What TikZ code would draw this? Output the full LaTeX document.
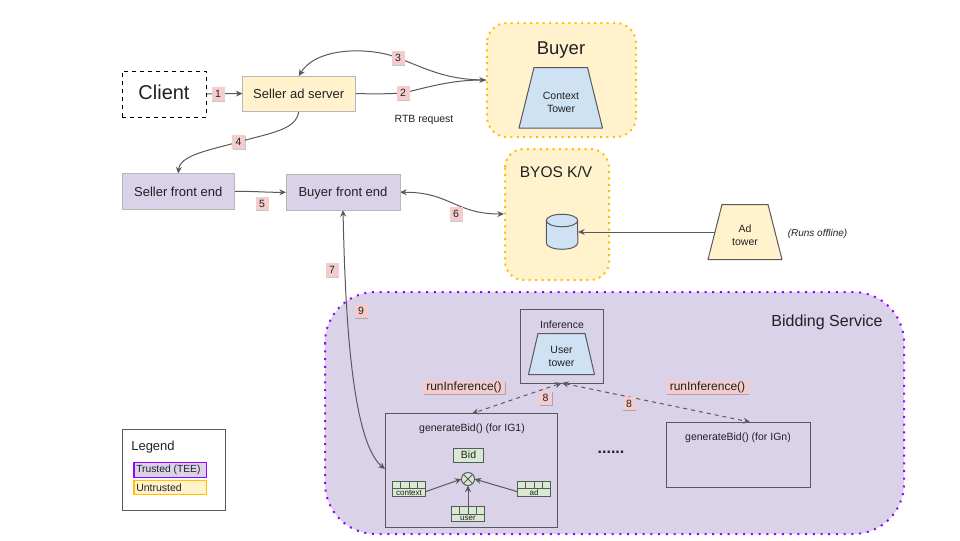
\documentclass[tikz,border=0pt]{standalone}
\usepackage{fontspec}
\setmainfont{Liberation Sans}
\usetikzlibrary{shapes.geometric,arrows.meta,shadows,calc}
\pgfdeclarelayer{back}\pgfdeclarelayer{conn}
\pgfsetlayers{back,conn,main}
\newcommand{\fsz}[1]{\fontsize{\fpeval{#1*0.75}pt}{\fpeval{#1*0.93}pt}\selectfont}
\definecolor{lav}{HTML}{D9D2E9}
\definecolor{cream}{HTML}{FFF2CC}
\definecolor{sky}{HTML}{CFE2F3}
\definecolor{pinkl}{HTML}{F4CCCC}
\definecolor{mint}{HTML}{D9EAD3}
\definecolor{vio}{HTML}{9900FF}
\definecolor{amber}{HTML}{FFC000}
\definecolor{dgrey}{HTML}{595959}
\definecolor{lgrey}{HTML}{B7B7B7}
\definecolor{ink}{HTML}{202124}
\tikzset{
 wh/.style 2 args={minimum width=#1*0.75pt,minimum height=#2*0.75pt,inner sep=0pt,outer sep=0pt},
 every node/.style={text=ink,align=center},
 lightbox/.style={draw=lgrey,line width=0.75pt},
 darkbox/.style={draw=dgrey,line width=0.75pt},
 dotamber/.style={draw=amber,line width=1.5pt,dash pattern=on 1.5pt off 3.3pt},
 dotvio/.style={draw=vio,line width=1.5pt,dash pattern=on 1.5pt off 4.3pt},
 conn/.style={draw=dgrey,line width=0.75pt,>={Stealth[length=5pt,width=4.5pt]}},
 tag/.style={fill=pinkl,inner sep=0pt,minimum height=10pt,minimum width=9.75pt,font=\fsz{10.5},
   drop shadow={shadow xshift=0.6pt,shadow yshift=-0.7pt,opacity=.22,fill=black}},
 towerline/.style={fill=sky,draw=dgrey,line width=0.75pt,line join=round},
 tbl/.style={wh={33}{15.5},fill=mint,darkbox,font=\fsz{8}},
}
\newcommand{\cells}[1]{%
 \draw[darkbox] ($(#1.north west)!0.5!(#1.south west)$) -- ($(#1.north east)!0.5!(#1.south east)$);
 \foreach \f in {0.25,0.5,0.75}{\draw[darkbox] ($(#1.north west)!\f!(#1.north east)$) -- ($($(#1.north west)!\f!(#1.north east)$)!0.5!($(#1.south west)!\f!(#1.south east)$)$);}%
}
\begin{document}
\begin{tikzpicture}[x=0.75pt,y=-0.75pt]
\useasboundingbox (0,0) rectangle (960,540);
% panels
\begin{pgfonlayer}{back}
\node[wh={149}{114},fill=cream,rounded corners=15pt] (buyerbg) at (561.5,80) {};
\draw[dotamber,rounded corners=15pt] (487,23) rectangle (636,137);
\node[wh={104}{131},fill=cream,rounded corners=14pt] (byosbg) at (557,214.5) {};
\draw[dotamber,rounded corners=14pt] (505,149) rectangle (609,280);
\node[wh={579}{242},fill=lav,rounded corners=38pt] (bidbg) at (614.5,413) {};
\draw[dotvio,rounded corners=38pt] (325,292) rectangle (904,534);
\end{pgfonlayer}
% boxes
\node[wh={84}{46},draw=black,line width=0.75pt,dashed] (client) at (164,94) {};
\node[font=\fsz{20}] (clientt) at (164,92.5) {Client};
\node[wh={112.5}{35},fill=cream,lightbox,font=\fsz{13}] (adserver) at (298.75,93.5) {Seller ad server};
\node[wh={112.5}{36},fill=lav,lightbox,font=\fsz{13},text depth=0pt] (sfe) at (178.25,191.5) {Seller front end};
\node[wh={114}{35.5},fill=lav,lightbox,font=\fsz{13},text depth=0pt] (bfe) at (343,192.25) {Buyer front end};
\node[font=\fsz{18.5}] (buyert) at (561,50) {Buyer};
\draw[towerline] (534,67.5) -- (587.5,67.5) -- (602.5,128) -- (519,128) -- cycle;
\node[font=\fsz{10.5}] (ctower) at (561,102) {Context\\Tower};
\node[font=\fsz{15.5}] (byost) at (556,172) {BYOS K/V};
\draw[towerline] (546.3,220.5) -- (546.3,243) arc (180:360:11.8pt and 4.7pt) -- (577.7,220.5);
\draw[towerline] (562,220.5) ellipse (11.8pt and 4.7pt);
\coordinate (dbr) at (578,232);
\path[fill=cream,draw=dgrey,line width=0.75pt,line join=round] (722,204.5) -- (768,204.5) -- (782,259.5) -- (708,259.5) -- cycle;
\coordinate (adl) at (715,232);
\node[font=\fsz{10.5}] (adt) at (745,235.5) {Ad\\tower};
\node[font=\itshape\fsz{10}] (off) at (817.5,234) {(Runs offline)};
\node[font=\fsz{10.5}] (rtb) at (424,120) {RTB request};
\node[font=\fsz{16}] (bids) at (827,322) {Bidding Service};
\node[wh={83.5}{74},darkbox] (inf) at (561.75,346) {};
\node[font=\fsz{10.5}] (inft) at (562,325) {Inference};
\draw[towerline] (538,333.5) -- (585,333.5) -- (594.5,374.5) -- (528.5,374.5) -- cycle;
\node[font=\fsz{10.5}] (utower) at (561.5,356.5) {User\\tower};
\node[wh={172.5}{113.5},darkbox] (gen1) at (471.25,470.25) {};
\node[font=\fsz{10.5}] (gen1t) at (472,429) {generateBid() (for IG1)};
\node[wh={144}{65},darkbox] (genn) at (738,454.5) {};
\node[font=\fsz{10.5}] (gennt) at (738,438) {generateBid() (for IGn)};
\node[wh={30}{14},fill=mint,darkbox,font=\fsz{10.5}] (bid) at (468.5,455) {Bid};
\node[circle,wh={13}{13},fill=mint,darkbox] (mix) at (468,479) {};
\draw[darkbox] (mix.45) -- (mix.225) (mix.135) -- (mix.315);
\node[tbl] (ctx) at (409,488.75) {};
\node[tbl] (adv) at (534,488.75) {};
\node[tbl] (usr) at (468,514) {};
\cells{ctx}\cells{adv}\cells{usr}
\node[font=\fsz{8}] (ctxl) at (409,492.8) {context};
\node[font=\fsz{8}] (advl) at (534,492.8) {ad};
\node[font=\fsz{8}] (usrl) at (468,518) {user};
\node[font=\bfseries\fsz{16}] (dots) at (611,452.5) {......};
% legend
\node[wh={103}{80.5},darkbox] (legend) at (174,469.75) {};
\node[font=\fsz{13}] (legt) at (153,447.5) {Legend};
\node[wh={72.5}{15},fill=lav,draw=vio,line width=0.8pt] (ltrust) at (170.25,470) {};
\node[anchor=west,font=\fsz{10.3},inner sep=0pt] (ltrustt) at (136,469.5) {Trusted (TEE)};
\node[wh={72.5}{14},fill=cream,draw=amber,line width=0.8pt] (luntr) at (170.25,487.5) {};
\node[anchor=west,font=\fsz{10.5},inner sep=0pt] (luntrt) at (136,487.5) {Untrusted};
% tags
\node[tag] (t1) at (218,94) {1};
\node[tag] (t2) at (403,93) {2};
\node[tag] (t3) at (398,58) {3};
\node[tag] (t4) at (238.5,142) {4};
\node[tag] (t5) at (262,203.5) {5};
\node[tag] (t6) at (456,214) {6};
\node[tag] (t7) at (332,270) {7};
\node[tag] (t8a) at (545.5,398) {8};
\node[tag] (t8b) at (629,403.5) {8};
\node[tag] (t9) at (361,311) {9};
\node[tag,minimum width=61.5pt,minimum height=10pt,font=\fsz{12}] (ri1) at (464,387.5) {runInference()};
\node[tag,minimum width=61.5pt,minimum height=10pt,font=\fsz{12}] (ri2) at (707.5,387.5) {runInference()};
% connectors
\begin{pgfonlayer}{conn}
\coordinate (buyerin) at (486,80);
\coordinate (byosin) at (504,214);
\draw[conn,->] (client.east) -- (adserver.west);
\draw[conn,->] (adserver.east) .. controls (372,94) and (388,94) .. (t2.center) .. controls (425,88) and (450,80) .. (buyerin);
\draw[conn,->] (buyerin) .. controls (445,80) and (425,68) .. (t3.center) .. controls (375,48) and (318,45) .. (adserver.north);
\draw[conn,->] (adserver.south) .. controls (297,130) and (270,133) .. (t4.center) .. controls (210,150) and (180,155) .. (sfe.north);
\draw[conn,->] (sfe.east) .. controls (255,191) and (265,192.5) .. (bfe.west);
\draw[conn,<->] (bfe.east) .. controls (450,192) and (455,214) .. (byosin);
\draw[conn,->] (adl) -- (dbr);
\draw[conn,<->] (bfe.south) .. controls (345,300) and (350,440) .. (gen1.west |- 0,469);
\draw[conn,<->,dashed] (inf.south) -- (472,413.5);
\draw[conn,<->,dashed] (inf.south) -- (750,422);
\draw[conn,->] ([yshift=-2.2pt]ctx.east) -- (mix.west);
\draw[conn,->] ([yshift=-2.2pt]adv.west) -- (mix.east);
\draw[conn,->] (usr.north) -- (mix.south);
\end{pgfonlayer}
\end{tikzpicture}
\end{document}
